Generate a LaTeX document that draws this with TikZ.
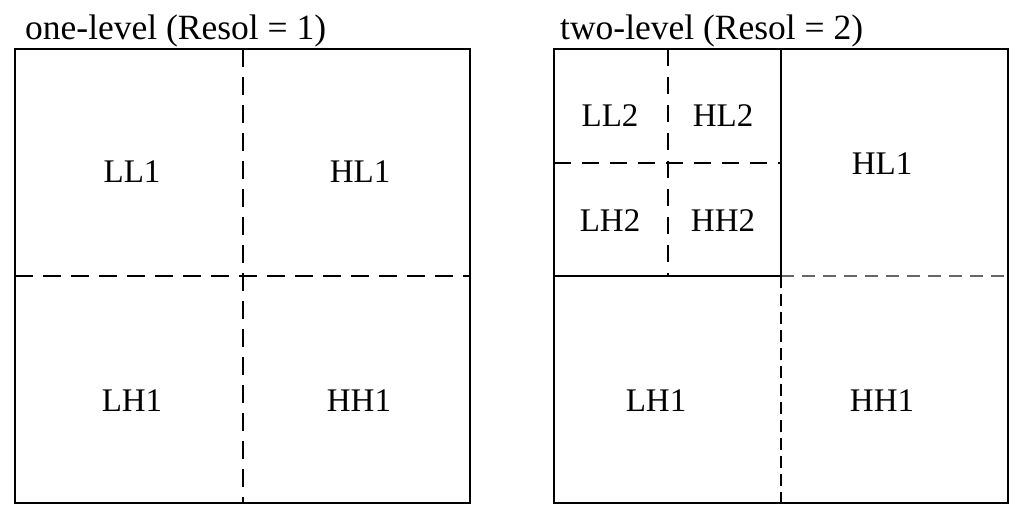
\documentclass[tikz,border=0pt]{standalone}
\usepackage{fontspec}
\setmainfont{Liberation Serif}
\begin{document}
\begin{tikzpicture}[x=1pt,y=1pt,
  frame/.style={line width=2.3pt, line cap=rect},
  dashblack/.style={line width=2.2pt, dash pattern=on 18pt off 10pt},
  dashinner/.style={line width=2.2pt, dash pattern=on 17pt off 11pt},
  dashgrey/.style={line width=2.2pt, draw=black!60, dash pattern=on 13pt off 8pt},
  dashthin/.style={line width=1.5pt, dash pattern=on 12pt off 6pt},
  lab/.style={anchor=base, font=\fontsize{33}{36}\selectfont, inner sep=0pt},
  ttl/.style={anchor=base west, font=\fontsize{35.5}{40}\selectfont, inner sep=0pt}]
\useasboundingbox (0,0) rectangle (1024,519);
% ---------- left: one-level ----------
\node[ttl] (t1) at (25,479) {one-level (Resol = 1)};
\draw[dashblack] (243,470) -- (243,16);
\draw[dashblack] (15,243) -- (470,243);
\draw[frame] (15,16) rectangle (470,470);
\node[lab] (ll1) at (132,336) {LL1};
\node[lab] (hl1) at (360,336) {HL1};
\node[lab] (lh1) at (132,107) {LH1};
\node[lab] (hh1) at (359,107) {HH1};
% ---------- right: two-level ----------
\node[ttl] (t2) at (560,479) {two-level (Resol = 2)};
\draw[dashinner] (668,470) -- (668,243);
\draw[dashinner] (554,356) -- (781,356);
\draw[dashgrey] (781,243) -- (1008,243);
\draw[dashthin] (781,243) -- (781,16);
\draw[frame] (781,470) -- (781,243) -- (554,243);
\draw[frame] (554,16) rectangle (1008,470);
\node[lab] (ll2) at (610,392) {LL2};
\node[lab] (hl2) at (723,392) {HL2};
\node[lab] (lh2) at (610,287) {LH2};
\node[lab] (hh2) at (723,287) {HH2};
\node[lab] (rhl1) at (882,344) {HL1};
\node[lab] (rlh1) at (656,107) {LH1};
\node[lab] (rhh1) at (882,107) {HH1};
\end{tikzpicture}
\end{document}
